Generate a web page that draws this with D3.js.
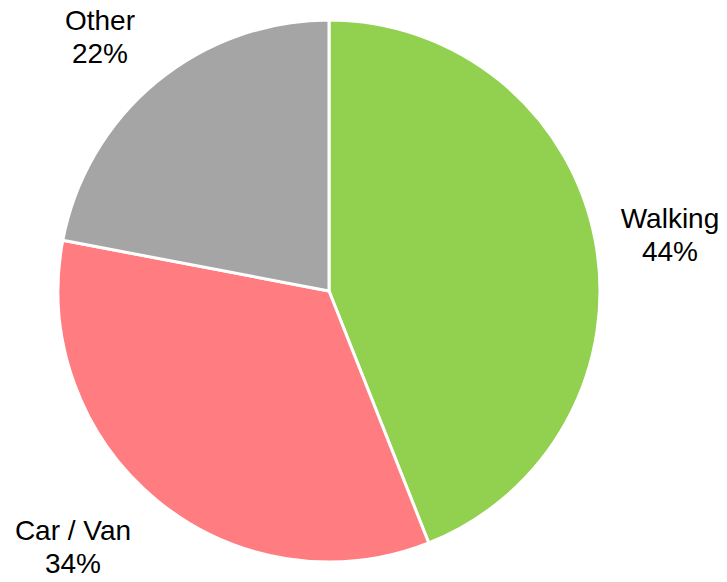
<!DOCTYPE html>
<html>
<head>
<meta charset="utf-8">
<script src="https://cdn.jsdelivr.net/npm/d3@7"></script>
<style>
  html, body { margin: 0; padding: 0; background: #ffffff; }
  svg { display: block; }
</style>
</head>
<body>
<div id="chart"></div>
<script>
const categories = ["Walking", "Car / Van", "Other"];
const values = [44, 34, 22];
const colors = ["#92d050", "#ff7c80", "#a5a5a5"];
const labelPos = [
  { x: 670, y: 228 },
  { x: 73, y: 540 },
  { x: 100, y: 30 }
];

const width = 727, height = 582;
const cx = 329, cy = 291, radius = 271;

const svg = d3.select("#chart").append("svg")
  .attr("width", width).attr("height", height);

const data = categories.map((c, i) => ({ name: c, value: values[i], color: colors[i], lp: labelPos[i] }));

const pie = d3.pie().value(d => d.value).sort(null);
const arc = d3.arc().innerRadius(0).outerRadius(radius);

const g = svg.append("g").attr("transform", `translate(${cx},${cy})`);
g.selectAll("path").data(pie(data)).join("path")
  .attr("d", arc)
  .attr("fill", d => d.data.color)
  .attr("stroke", "#ffffff")
  .attr("stroke-width", 3)
  .attr("stroke-linejoin", "round");

const labels = svg.selectAll("text.lbl").data(data).join("text")
  .attr("class", "lbl")
  .attr("text-anchor", "middle")
  .attr("font-family", "Liberation Sans, Arial, sans-serif")
  .attr("font-size", 28)
  .attr("fill", "#000000");
labels.append("tspan").attr("x", d => d.lp.x).attr("y", d => d.lp.y).text(d => d.name);
labels.append("tspan").attr("x", d => d.lp.x).attr("dy", 33).text(d => d.value + "%");
</script>
</body>
</html>
